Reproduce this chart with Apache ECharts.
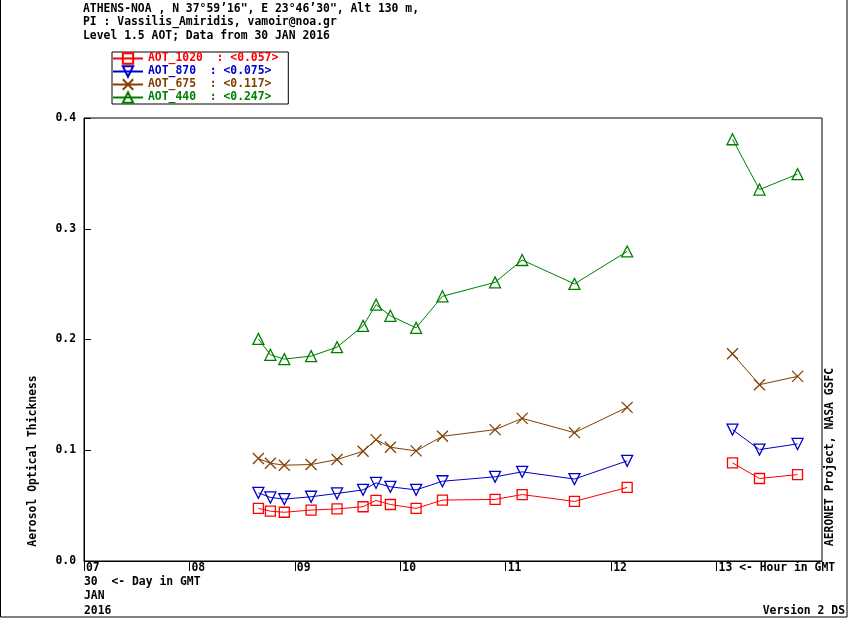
<!DOCTYPE html>
<html>
<head>
<meta charset="utf-8">
<title>AERONET ATHENS-NOA</title>
<script src="https://cdn.jsdelivr.net/npm/echarts/dist/echarts.min.js"></script>
<style>
  html, body { margin: 0; padding: 0; background: #fff; }
  #main-echart { width: 850px; height: 620px; }
</style>
</head>
<body>
<div id="main-echart"></div>
<script>
// hours in GMT, 30 JAN 2016
var hours = [8.654, 8.768, 8.900, 9.154, 9.400, 9.647, 9.770, 9.906, 10.150, 10.400, 10.899, 11.156, 11.652, 12.152, 13.151, 13.407, 13.768];
var aot1020 = [0.0475, 0.045, 0.044, 0.046, 0.047, 0.049, 0.0547, 0.051, 0.0475, 0.055, 0.0556, 0.060, 0.0538, 0.0664, 0.0886, 0.0745, 0.078];
var aot870 = [0.0615, 0.0574, 0.0559, 0.058, 0.061, 0.0642, 0.0705, 0.067, 0.0642, 0.072, 0.076, 0.0805, 0.074, 0.0904, 0.1186, 0.1006, 0.1057];
var aot675 = [0.0925, 0.0883, 0.0865, 0.0871, 0.0916, 0.0991, 0.1096, 0.1027, 0.0994, 0.1126, 0.1186, 0.1288, 0.1159, 0.1387, 0.1871, 0.1592, 0.1667];
var aot440 = [0.2006, 0.1862, 0.1823, 0.185, 0.1931, 0.2123, 0.2315, 0.2214, 0.2105, 0.239, 0.2516, 0.2718, 0.2502, 0.2795, 0.3808, 0.3354, 0.3493];

var seriesNames = ['AOT_1020', 'AOT_870', 'AOT_675', 'AOT_440'];
var seriesAvg = ['0.057', '0.075', '0.117', '0.247'];
var seriesColors = ['#ff0000', '#0000c8', '#804000', '#008000'];
var seriesSymbols = [
    'path://M0,0 L10,0 L10,10 L0,10 Z',
    'path://M0,0 L10,0 L5,9 Z',
    'path://M0,0 L10,10 M10,0 L0,10',
    'path://M5,0 L10,9 L0,9 Z'
];
var hourTicks = ['07', '08', '09', '10', '11', '12', '13 <- Hour in GMT'];

var titleLines = [
    'ATHENS-NOA , N 37\u00b059\u201916", E 23\u00b046\u201930", Alt 130 m,',
    'PI : Vassilis_Amiridis, vamoir@noa.gr',
    'Level 1.5 AOT; Data from 30 JAN 2016'
];
var dateLines = ['30  <- Day in GMT', 'JAN', '2016'];

var FONT = 'bold 11.4px "DejaVu Sans Mono", "Liberation Mono", monospace';

// gap in the measurements (no data around noon-13h) -> break the line
function buildData(values) {
    var out = [];
    for (var i = 0; i < hours.length; i++) {
        if (i > 0 && hours[i] - hours[i - 1] > 0.7) {
            out.push([(hours[i] + hours[i - 1]) / 2, '-']);
        }
        out.push([hours[i], values[i]]);
    }
    return out;
}

var allValues = [aot1020, aot870, aot675, aot440];
var series = [];
var legendData = [];
for (var k = 0; k < seriesNames.length; k++) {
    series.push({
        name: seriesNames[k],
        type: 'line',
        data: buildData(allValues[k]),
        symbol: seriesSymbols[k],
        symbolSize: k == 0 ? 10 : 11,
        showSymbol: true,
        connectNulls: false,
        animation: false,
        lineStyle: { color: seriesColors[k], width: 1 },
        itemStyle: { color: 'rgba(0,0,0,0)', borderColor: seriesColors[k], borderWidth: 1.3 },
        emphasis: { disabled: true }
    });
    legendData.push({ name: seriesNames[k], textStyle: { color: seriesColors[k] } });
}

var graphic = [];
for (var t = 0; t < titleLines.length; t++) {
    graphic.push({ type: 'text', x: 83, y: 9 + t * 13.5,
        style: { text: titleLines[t], font: FONT, fill: '#000', verticalAlign: 'middle' } });
}
for (var d = 0; d < dateLines.length; d++) {
    graphic.push({ type: 'text', x: 84, y: 582 + d * 14.5,
        style: { text: dateLines[d], font: FONT, fill: '#000', verticalAlign: 'middle' } });
}
graphic.push({ type: 'text', x: 845, y: 611,
    style: { text: 'Version 2 DS', font: FONT, fill: '#000', align: 'right', verticalAlign: 'middle' } });
graphic.push({ type: 'text', x: 33, y: 461, rotation: Math.PI / 2,
    style: { text: 'Aerosol Optical Thickness', font: FONT, fill: '#000', align: 'center', verticalAlign: 'middle' } });
graphic.push({ type: 'text', x: 830, y: 457, rotation: Math.PI / 2,
    style: { text: 'AERONET Project, NASA GSFC', font: FONT, fill: '#000', align: 'center', verticalAlign: 'middle' } });
graphic.push({ type: 'rect', shape: { x: 0.5, y: -2, width: 846.5, height: 619 },
    style: { fill: 'none', stroke: '#000', lineWidth: 1 }, silent: true });

var chartDom = document.getElementById('main-echart');
var myChart = echarts.init(chartDom);
var option = {
    animation: false,
    backgroundColor: '#fff',
    textStyle: { fontFamily: '"DejaVu Sans Mono", monospace', fontWeight: 'bold', fontSize: 11.4 },
    grid: {
        left: 84, top: 118, right: 28, bottom: 59,
        show: true, borderColor: '#000', borderWidth: 1, backgroundColor: '#fff'
    },
    legend: {
        left: 112, top: 52,
        orient: 'vertical',
        itemWidth: 30, itemHeight: 13, itemGap: 0,
        padding: [0, 10, 0, 0],
        borderColor: '#000', borderWidth: 1,
        selectedMode: false,
        data: legendData,
        formatter: function (name) {
            var i = seriesNames.indexOf(name);
            return name + '  : <' + seriesAvg[i] + '>';
        },
        textStyle: { fontFamily: '"DejaVu Sans Mono", monospace', fontWeight: 'bold', fontSize: 11.4, lineHeight: 13 }
    },
    xAxis: {
        type: 'value',
        min: 7, max: 14, interval: 1,
        splitLine: { show: false },
        axisLine: { show: true, lineStyle: { color: '#000', width: 1 } },
        axisTick: { show: true, inside: false, length: 10, lineStyle: { color: '#000' } },
        axisLabel: {
            align: 'left', verticalAlign: 'top', margin: 2, padding: [0, 0, 0, 2],
            color: '#000', fontFamily: '"DejaVu Sans Mono", monospace', fontWeight: 'bold', fontSize: 11.4,
            showMaxLabel: false,
            formatter: function (v) {
                var i = Math.round(v) - 7;
                return (i >= 0 && i < hourTicks.length) ? hourTicks[i] : '';
            }
        }
    },
    yAxis: {
        type: 'value',
        min: 0, max: 0.4, interval: 0.1,
        splitLine: { show: false },
        axisLine: { show: true, lineStyle: { color: '#000', width: 1 } },
        axisTick: { show: true, inside: true, length: 7, lineStyle: { color: '#000' } },
        axisLabel: {
            margin: 8, color: '#000',
            fontFamily: '"DejaVu Sans Mono", monospace', fontWeight: 'bold', fontSize: 11.4,
            formatter: function (v) { return v.toFixed(1); }
        }
    },
    graphic: graphic,
    series: series
};

option && myChart.setOption(option);
</script>
</body>
</html>
